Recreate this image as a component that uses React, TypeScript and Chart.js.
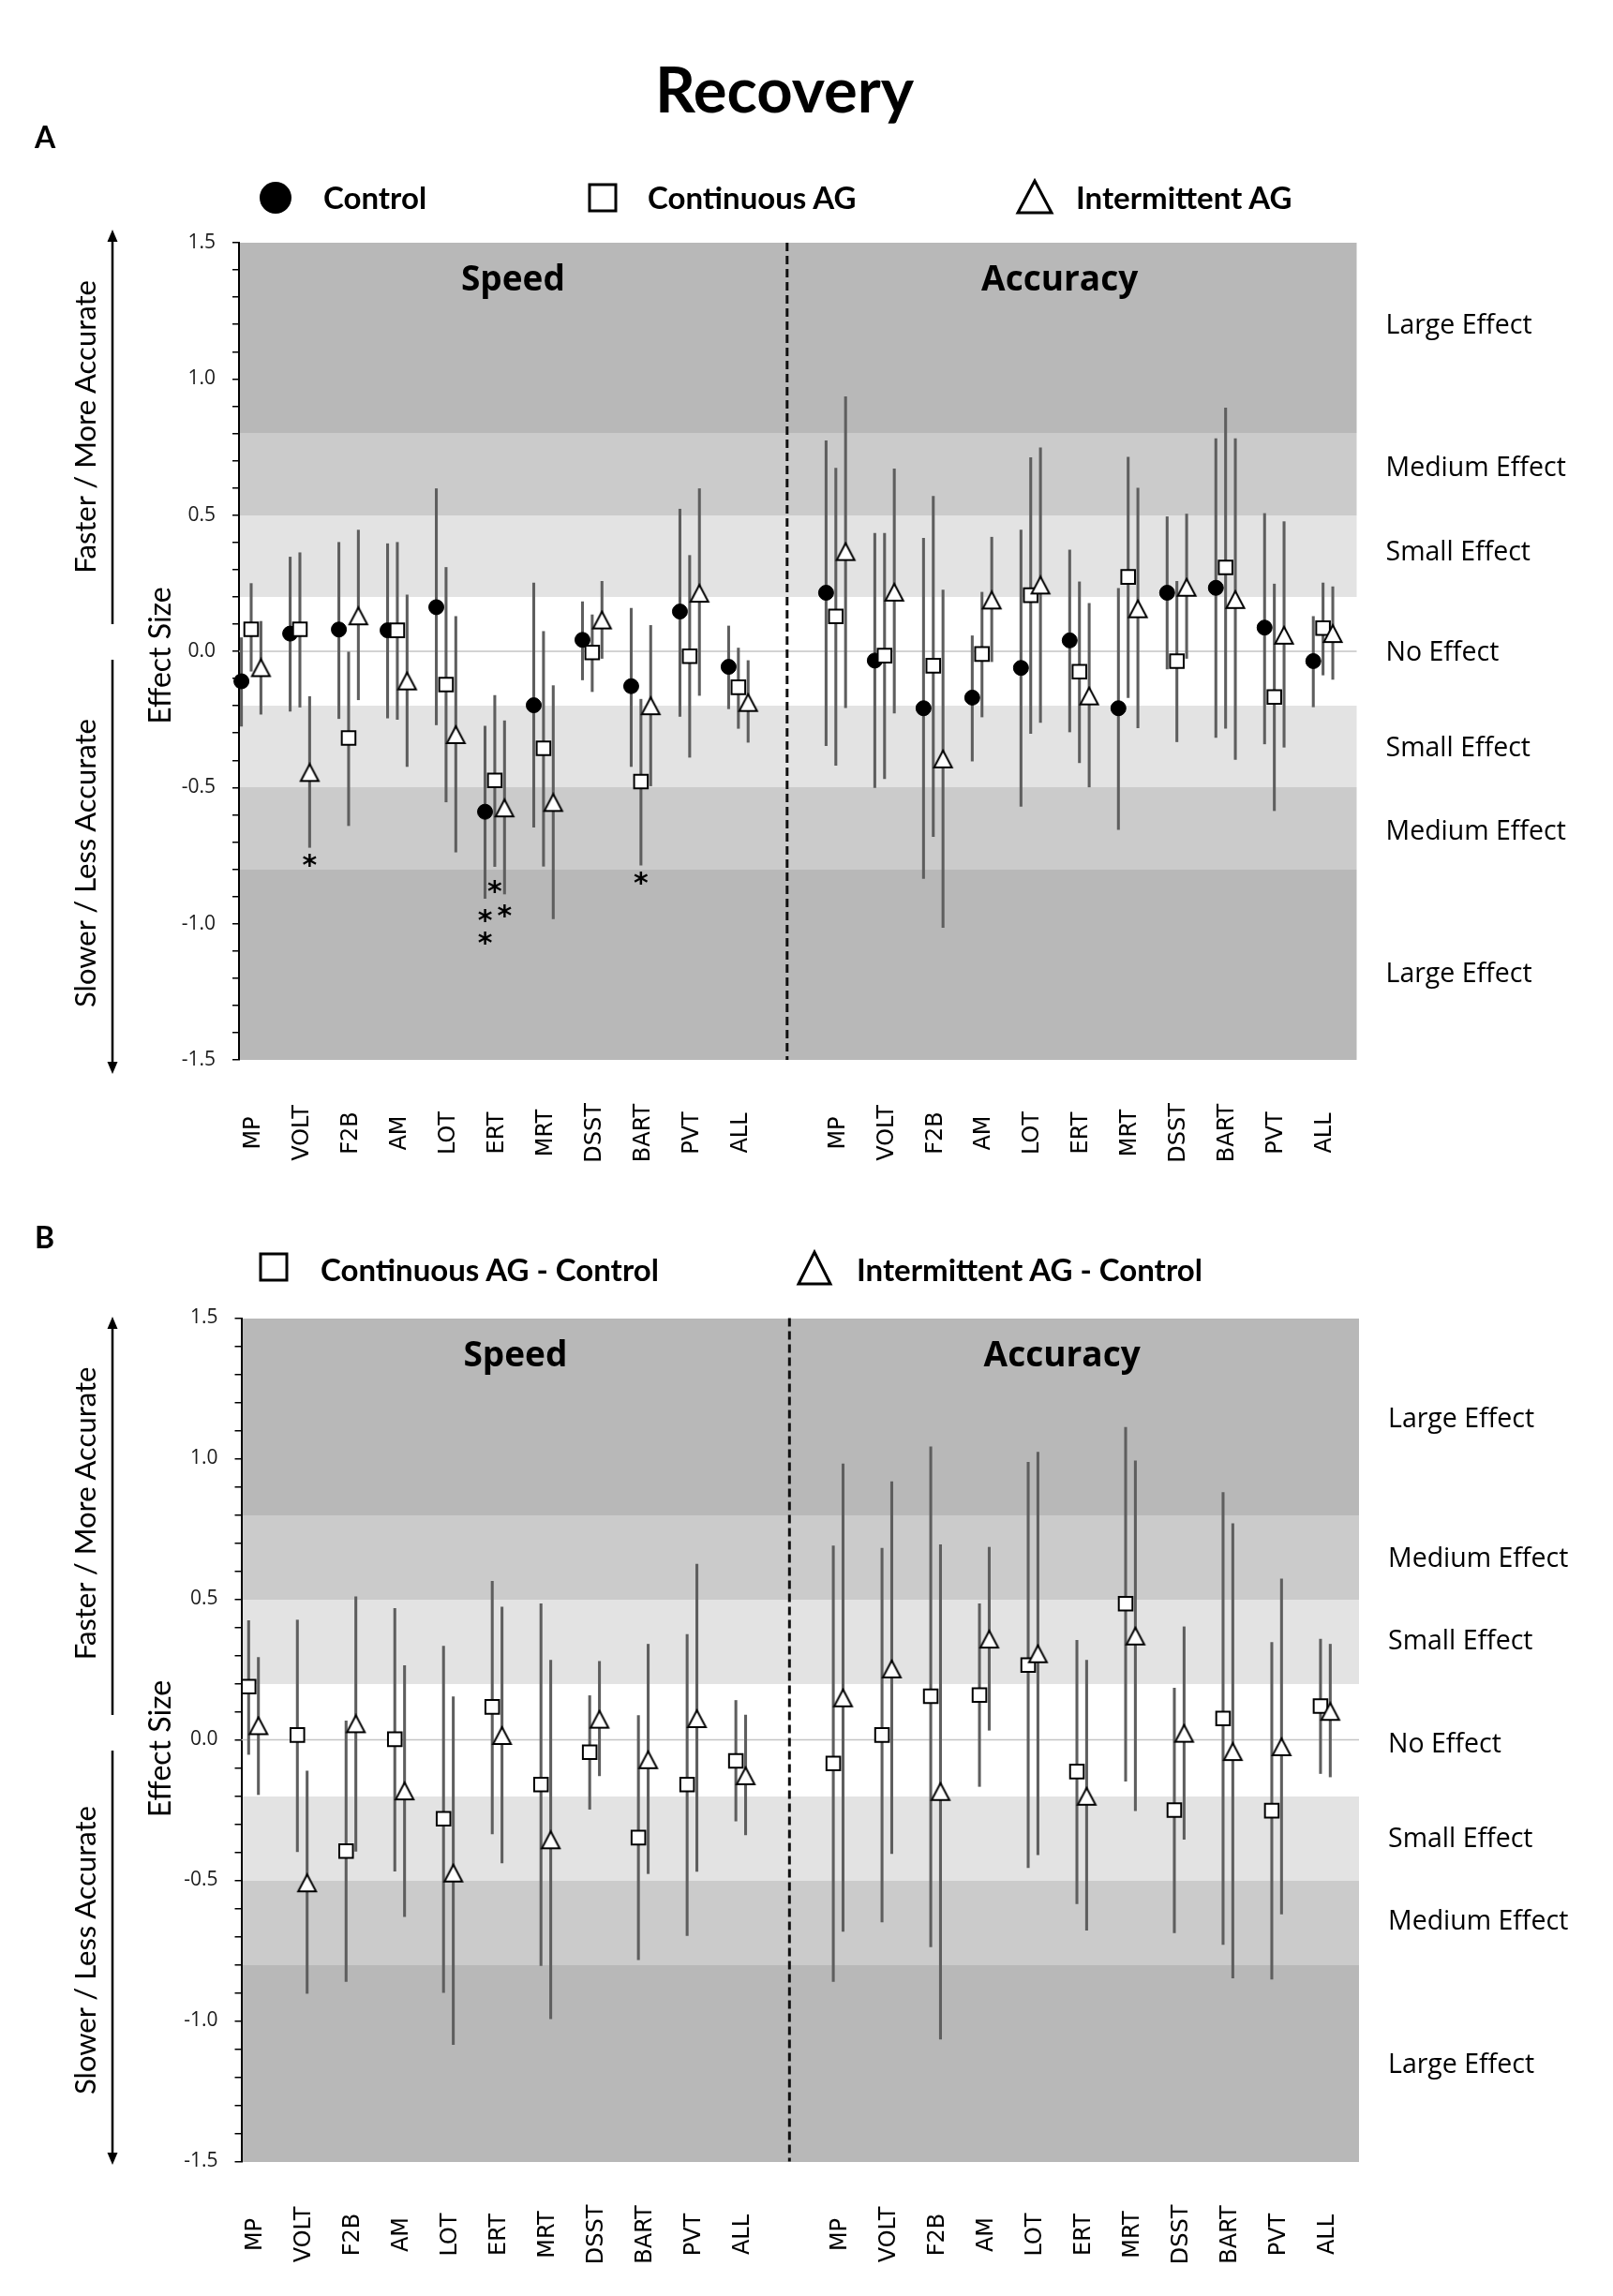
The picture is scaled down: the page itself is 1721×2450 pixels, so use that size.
import React, { useEffect, useRef } from "react";
import { Chart, registerables } from "chart.js";

Chart.register(...registerables);

// ---------------- Data ----------------
const categories = ["MP", "VOLT", "F2B", "AM", "LOT", "ERT", "MRT", "DSST", "BART", "PVT", "ALL"];
const effectLabels = ["Large Effect", "Medium Effect", "Small Effect", "No Effect", "Small Effect", "Medium Effect", "Large Effect"];
const effectLabelYA = [1.2, 0.68, 0.37, 0, -0.35, -0.655, -1.18];
const effectLabelYB = [1.146, 0.65, 0.355, -0.01, -0.347, -0.642, -1.152];
const bandEdges = [-1.5, -0.8, -0.5, -0.2, 0.2, 0.5, 0.8, 1.5];

// Panel A – Control
const controlSpeed = [-0.11, 0.065, 0.08, 0.077, 0.162, -0.589, -0.198, 0.042, -0.128, 0.146, -0.057];
const controlSpeedLo = [-0.275, -0.22, -0.247, -0.245, -0.27, -0.907, -0.646, -0.105, -0.423, -0.239, -0.211];
const controlSpeedHi = [0.05, 0.346, 0.4, 0.395, 0.597, -0.275, 0.251, 0.182, 0.158, 0.522, 0.093];
const controlAcc = [0.215, -0.034, -0.209, -0.17, -0.061, 0.04, -0.209, 0.215, 0.233, 0.087, -0.036];
const controlAccLo = [-0.346, -0.5, -0.834, -0.403, -0.569, -0.296, -0.654, -0.065, -0.316, -0.34, -0.204];
const controlAccHi = [0.773, 0.433, 0.415, 0.057, 0.445, 0.372, 0.231, 0.494, 0.781, 0.506, 0.128];

// Panel A – Continuous AG
const contSpeed = [0.081, 0.081, -0.318, 0.077, -0.122, -0.474, -0.356, -0.004, -0.478, -0.018, -0.132];
const contSpeedLo = [-0.073, -0.205, -0.64, -0.25, -0.553, -0.79, -0.789, -0.148, -0.785, -0.389, -0.283];
const contSpeedHi = [0.249, 0.362, 0.0, 0.4, 0.308, -0.162, 0.073, 0.134, -0.176, 0.352, 0.012];
const contAcc = [0.128, -0.016, -0.053, -0.01, 0.206, -0.075, 0.273, -0.036, 0.308, -0.168, 0.085];
const contAccLo = [-0.419, -0.468, -0.68, -0.241, -0.302, -0.409, -0.17, -0.332, -0.283, -0.585, -0.087];
const contAccHi = [0.672, 0.433, 0.569, 0.217, 0.711, 0.255, 0.713, 0.257, 0.893, 0.247, 0.251];

// Panel A – Intermittent AG
const intSpeed = [-0.06, -0.445, 0.13, -0.109, -0.306, -0.575, -0.555, 0.115, -0.2, 0.213, -0.188];
const intSpeedLo = [-0.231, -0.72, -0.178, -0.423, -0.737, -0.891, -0.982, -0.026, -0.494, -0.162, -0.334];
const intSpeedHi = [0.11, -0.166, 0.445, 0.207, 0.128, -0.255, -0.126, 0.257, 0.095, 0.597, -0.034];
const intAcc = [0.366, 0.217, -0.395, 0.188, 0.243, -0.164, 0.156, 0.235, 0.19, 0.059, 0.065];
const intAccLo = [-0.207, -0.227, -1.014, -0.038, -0.261, -0.498, -0.281, -0.026, -0.397, -0.352, -0.103];
const intAccHi = [0.935, 0.67, 0.225, 0.419, 0.747, 0.176, 0.599, 0.504, 0.781, 0.476, 0.237];

// Panel A – significance asterisks (speed block)
const asteriskCategory = ["VOLT", "ERT", "ERT", "ERT", "ERT", "BART"];
const asteriskSeries = ["int", "control", "control", "cont", "int", "cont"];
const asteriskY = [-0.77, -0.972, -1.055, -0.864, -0.953, -0.834];

// Panel B – Continuous AG - Control
const contDiffSpeed = [0.189, 0.017, -0.396, 0.002, -0.281, 0.117, -0.159, -0.044, -0.348, -0.159, -0.075];
const contDiffSpeedLo = [-0.052, -0.398, -0.86, -0.467, -0.899, -0.335, -0.803, -0.247, -0.782, -0.696, -0.289];
const contDiffSpeedHi = [0.424, 0.426, 0.067, 0.467, 0.333, 0.564, 0.484, 0.157, 0.086, 0.375, 0.14];
const contDiffAcc = [-0.084, 0.017, 0.155, 0.159, 0.266, -0.113, 0.484, -0.25, 0.076, -0.252, 0.12];
const contDiffAccLo = [-0.86, -0.648, -0.736, -0.166, -0.455, -0.583, -0.147, -0.686, -0.728, -0.851, -0.12];
const contDiffAccHi = [0.69, 0.681, 1.042, 0.484, 0.987, 0.354, 1.111, 0.184, 0.88, 0.346, 0.358];

// Panel B – Intermittent AG - Control
const intDiffSpeed = [0.05, -0.509, 0.057, -0.182, -0.474, 0.015, -0.356, 0.073, -0.071, 0.075, -0.128];
const intDiffSpeedLo = [-0.195, -0.902, -0.396, -0.629, -1.084, -0.438, -0.992, -0.128, -0.476, -0.468, -0.338];
const intDiffSpeedHi = [0.293, -0.111, 0.509, 0.264, 0.153, 0.472, 0.283, 0.279, 0.34, 0.625, 0.088];
const intDiffAcc = [0.149, 0.252, -0.184, 0.358, 0.306, -0.201, 0.369, 0.023, -0.042, -0.025, 0.101];
const intDiffAccLo = [-0.681, -0.405, -1.065, 0.034, -0.409, -0.677, -0.252, -0.354, -0.847, -0.62, -0.132];
const intDiffAccHi = [0.981, 0.918, 0.694, 0.685, 1.023, 0.283, 0.992, 0.402, 0.769, 0.572, 0.34];

// ---------------- Layout constants ----------------
const ACC_START = 12;
const DIVIDER = 11;
const X_MIN = -0.25;
const X_MAX = 22.69;
const BAND_COLORS = ["#b8b8b8", "#cbcbcb", "#e3e3e3", "#ffffff", "#e3e3e3", "#cbcbcb", "#b8b8b8"];
const ERR_COLOR = "#5e5e5e";
const PAGE_W = 1721;

type Marker = "circle" | "square" | "triangle";
type SeriesDef = {
  key: string;
  speed: number[]; speedLo: number[]; speedHi: number[];
  acc: number[]; accLo: number[]; accHi: number[];
  dx: number; marker: Marker;
};

function makeTriangle(): HTMLCanvasElement {
  const c = document.createElement("canvas");
  c.width = 24;
  c.height = 22;
  const g = c.getContext("2d")!;
  g.beginPath();
  g.moveTo(12, 2);
  g.lineTo(21.5, 20);
  g.lineTo(2.5, 20);
  g.closePath();
  g.fillStyle = "#fff";
  g.fill();
  g.lineWidth = 2;
  g.strokeStyle = "#000";
  g.stroke();
  return c;
}

function markerStyle(m: Marker, tri: HTMLCanvasElement) {
  if (m === "circle") return { pointStyle: "circle", pointRadius: 8, pointBackgroundColor: "#000", pointBorderColor: "#000", pointBorderWidth: 1 };
  if (m === "square") return { pointStyle: "rect", pointRadius: 10.3, pointBackgroundColor: "#fff", pointBorderColor: "#000", pointBorderWidth: 2 };
  return { pointStyle: tri, pointRadius: 10, pointBackgroundColor: "#fff", pointBorderColor: "#000", pointBorderWidth: 2 };
}

function buildDatasets(series: SeriesDef[], tri: HTMLCanvasElement) {
  const ds: any[] = [];
  series.forEach((s, k) => {
    const data = [
      ...s.speedLo.map((lo, i) => ({ x: i + s.dx, y: [lo, s.speedHi[i]] })),
      ...s.accLo.map((lo, i) => ({ x: ACC_START + i + s.dx, y: [lo, s.accHi[i]] })),
    ];
    ds.push({ type: "bar", data, backgroundColor: ERR_COLOR, borderWidth: 0, barThickness: 2.4, grouped: false, order: 20 - k, clip: false });
  });
  series.forEach((s, k) => {
    const data = [
      ...s.speed.map((v, i) => ({ x: i + s.dx, y: v })),
      ...s.acc.map((v, i) => ({ x: ACC_START + i + s.dx, y: v })),
    ];
    ds.push({ type: "scatter", label: s.key, data, order: 10 - k, clip: false, showLine: false, ...markerStyle(s.marker, tri) });
  });
  return ds;
}

type PanelOpts = {
  series: SeriesDef[];
  effectY: number[];
  yAxisWidth: number;
  padding: { top: number; bottom: number; left: number; right: number };
  asterisks: boolean;
};

function makeConfig(o: PanelOpts): any {
  const tri = makeTriangle();
  const isHalf = (v: number) => Math.abs(v * 2 - Math.round(v * 2)) < 1e-6;

  const bandsPlugin = {
    id: "bands",
    beforeDraw(chart: any) {
      const { ctx, chartArea: a, scales } = chart;
      const y = scales.y;
      ctx.save();
      for (let i = 0; i < BAND_COLORS.length; i++) {
        const y0 = Math.round(y.getPixelForValue(bandEdges[i]));
        const y1 = Math.round(y.getPixelForValue(bandEdges[i + 1]));
        ctx.fillStyle = BAND_COLORS[i];
        ctx.fillRect(a.left, y1, a.right - a.left, y0 - y1);
      }
      ctx.restore();
    },
    beforeDatasetsDraw(chart: any) {
      const { ctx, chartArea: a, scales } = chart;
      const { x, y } = scales;
      ctx.save();
      // zero line
      const y0 = y.getPixelForValue(0);
      ctx.strokeStyle = "#c4c4c4";
      ctx.lineWidth = 1.5;
      ctx.beginPath();
      ctx.moveTo(a.left, y0);
      ctx.lineTo(a.right, y0);
      ctx.stroke();
      // dashed divider between speed and accuracy
      const xd = x.getPixelForValue(DIVIDER);
      ctx.strokeStyle = "#111";
      ctx.lineWidth = 3;
      ctx.setLineDash([9, 5]);
      ctx.beginPath();
      ctx.moveTo(xd, a.top);
      ctx.lineTo(xd, a.bottom);
      ctx.stroke();
      ctx.restore();
    },
  };

  const labelsPlugin = {
    id: "labels",
    afterDraw(chart: any) {
      const { ctx, chartArea: a, scales } = chart;
      const { x, y } = scales;
      ctx.save();
      ctx.fillStyle = "#000";
      // category labels (rotated)
      ctx.font = '24px "DejaVu Sans"';
      ctx.textAlign = "center";
      ctx.textBaseline = "alphabetic";
      const capX = 17.5;
      categories.forEach((c, i) => {
        [i, ACC_START + i].forEach((idx) => {
          const px = x.getPixelForValue(idx);
          ctx.save();
          ctx.translate(px, a.bottom + 78);
          ctx.rotate(-Math.PI / 2);
          ctx.fillText(c, 0, capX / 2);
          ctx.restore();
        });
      });
      // effect size labels on the right
      ctx.font = '28.5px "Open Sans"';
      ctx.textAlign = "left";
      const capE = 28.5 * 0.714;
      effectLabels.forEach((t, i) => {
        ctx.fillText(t, a.right + 31, y.getPixelForValue(o.effectY[i]) + capE / 2);
      });
      // section headers
      ctx.font = 'bold 37px "Open Sans"';
      ctx.textAlign = "center";
      const xd = x.getPixelForValue(DIVIDER);
      ctx.fillText("Speed", (a.left + xd) / 2, a.top + 51);
      ctx.fillText("Accuracy", (xd + a.right) / 2 - 13, a.top + 51);
      // asterisks
      if (o.asterisks) {
        ctx.font = 'bold 30px "DejaVu Sans"';
        ctx.textAlign = "center";
        const m = ctx.measureText("*");
        const asc = m.actualBoundingBoxAscent || 20;
        const desc = m.actualBoundingBoxDescent || 0;
        asteriskCategory.forEach((c, i) => {
          const s = o.series.find((q) => q.key === asteriskSeries[i])!;
          const px = x.getPixelForValue(categories.indexOf(c) + s.dx);
          const py = y.getPixelForValue(asteriskY[i]);
          ctx.fillText("*", px, py + (asc - desc) / 2);
        });
      }
      ctx.restore();
    },
  };

  return {
    type: "scatter",
    data: { datasets: buildDatasets(o.series, tri) },
    options: {
      responsive: false,
      animation: false,
      devicePixelRatio: 1,
      events: [],
      layout: { padding: o.padding },
      plugins: { legend: { display: false }, tooltip: { enabled: false } },
      scales: {
        x: { type: "linear", min: X_MIN, max: X_MAX, display: false, offset: false, grid: { offset: false } },
        y: {
          type: "linear",
          min: -1.5,
          max: 1.5,
          afterFit: (s: any) => { s.width = o.yAxisWidth; },
          ticks: {
            stepSize: 0.1,
            autoSkip: false,
            padding: 18,
            color: "#1a1a1a",
            font: { family: "Open Sans", size: 21 },
            callback: (v: any) => (isHalf(Number(v)) ? Number(v).toFixed(1) : ""),
          },
          grid: { display: true, drawOnChartArea: false, drawTicks: true, tickLength: 7, color: "#000", lineWidth: 1.5 },
          border: { display: true, color: "#000", width: 2 },
        },
      },
    },
    plugins: [bandsPlugin, labelsPlugin],
  };
}

const seriesA: SeriesDef[] = [
  { key: "control", speed: controlSpeed, speedLo: controlSpeedLo, speedHi: controlSpeedHi, acc: controlAcc, accLo: controlAccLo, accHi: controlAccHi, dx: -0.2, marker: "circle" },
  { key: "cont", speed: contSpeed, speedLo: contSpeedLo, speedHi: contSpeedHi, acc: contAcc, accLo: contAccLo, accHi: contAccHi, dx: 0, marker: "square" },
  { key: "int", speed: intSpeed, speedLo: intSpeedLo, speedHi: intSpeedHi, acc: intAcc, accLo: intAccLo, accHi: intAccHi, dx: 0.2, marker: "triangle" },
];

const seriesB: SeriesDef[] = [
  { key: "cont", speed: contDiffSpeed, speedLo: contDiffSpeedLo, speedHi: contDiffSpeedHi, acc: contDiffAcc, accLo: contDiffAccLo, accHi: contDiffAccHi, dx: -0.1, marker: "square" },
  { key: "int", speed: intDiffSpeed, speedLo: intDiffSpeedLo, speedHi: intDiffSpeedHi, acc: intDiffAcc, accLo: intDiffAccLo, accHi: intDiffAccHi, dx: 0.1, marker: "triangle" },
];

function ChartCanvas({ top, height, opts }: { top: number; height: number; opts: PanelOpts }) {
  const ref = useRef<HTMLCanvasElement>(null);
  useEffect(() => {
    const chart = new Chart(ref.current!, makeConfig(opts));
    return () => chart.destroy();
  }, []);
  return (
    <canvas
      ref={ref}
      width={PAGE_W}
      height={height}
      style={{ position: "absolute", left: 0, top, width: PAGE_W, height }}
    />
  );
}

function SideArrows({ upTip, upEnd, downStart, downTip, fasterY, slowerY, effectY }: any) {
  const x = 120;
  return (
    <g>
      <line x1={x} y1={upTip + 10} x2={x} y2={upEnd} stroke="#000" strokeWidth={2.5} />
      <polygon points={`${x},${upTip} ${x - 5.5},${upTip + 13} ${x + 5.5},${upTip + 13}`} fill="#000" />
      <line x1={x} y1={downStart} x2={x} y2={downTip - 10} stroke="#000" strokeWidth={2.5} />
      <polygon points={`${x},${downTip} ${x - 5.5},${downTip - 13} ${x + 5.5},${downTip - 13}`} fill="#000" />
      <text transform={`translate(102,${fasterY}) rotate(-90)`} textAnchor="middle" fontFamily="Lato" fontSize={31}>
        Faster / More Accurate
      </text>
      <text transform={`translate(102,${slowerY}) rotate(-90)`} textAnchor="middle" fontFamily="Lato" fontSize={31}>
        Slower / Less Accurate
      </text>
      <text transform={`translate(182,${effectY}) rotate(-90)`} textAnchor="middle" fontFamily="Lato" fontSize={32}>
        Effect Size
      </text>
    </g>
  );
}

export default function App() {
  const optsA: PanelOpts = {
    series: seriesA,
    effectY: effectLabelYA,
    yAxisWidth: 255,
    padding: { top: 259, bottom: 159, left: 0, right: 273.5 },
    asterisks: true,
  };
  const optsB: PanelOpts = {
    series: seriesB,
    effectY: effectLabelYB,
    yAxisWidth: 257.5,
    padding: { top: 116.5, bottom: 143.5, left: 0, right: 271 },
    asterisks: false,
  };
  const bold = { fontFamily: "Lato", fontWeight: 700 } as const;
  return (
    <div style={{ position: "absolute", left: 0, top: 0, width: PAGE_W, height: 2450, overflow: "hidden", background: "#fff" }}>
      <ChartCanvas top={0} height={1290} opts={optsA} />
      <ChartCanvas top={1290} height={1160} opts={optsB} />
      <svg width={PAGE_W} height={2450} style={{ position: "absolute", left: 0, top: 0, pointerEvents: "none" }}>
        <text x={837} y={120} textAnchor="middle" fontSize={67} {...bold}>Recovery</text>

        {/* Panel A legend */}
        <text x={37} y={158} fontSize={32} {...bold}>A</text>
        <circle cx={294} cy={211} r={17} fill="#000" />
        <text x={345} y={223} fontSize={33} {...bold}>Control</text>
        <rect x={629} y={197} width={28} height={28} fill="#fff" stroke="#000" strokeWidth={3} />
        <text x={691} y={223} fontSize={33} {...bold}>Continuous AG</text>
        <polygon points="1086,227 1122,227 1104,193" fill="#fff" stroke="#000" strokeWidth={3} />
        <text x={1148} y={223} fontSize={33} {...bold}>Intermittent AG</text>

        {/* Panel B legend */}
        <text x={37} y={1332} fontSize={32} {...bold}>B</text>
        <rect x={278} y={1338} width={28} height={28} fill="#fff" stroke="#000" strokeWidth={3} />
        <text x={342} y={1367} fontSize={33} {...bold}>Continuous AG - Control</text>
        <polygon points="852,1370 886,1370 869,1336" fill="#fff" stroke="#000" strokeWidth={3} />
        <text x={914} y={1367} fontSize={33} {...bold}>Intermittent AG - Control</text>

        <SideArrows upTip={245} upEnd={666} downStart={704} downTip={1146} fasterY={455.5} slowerY={921} effectY={699.5} />
        <SideArrows upTip={1405} upEnd={1830} downStart={1868} downTip={2310} fasterY={1615} slowerY={2081} effectY={1866} />
      </svg>
    </div>
  );
}
